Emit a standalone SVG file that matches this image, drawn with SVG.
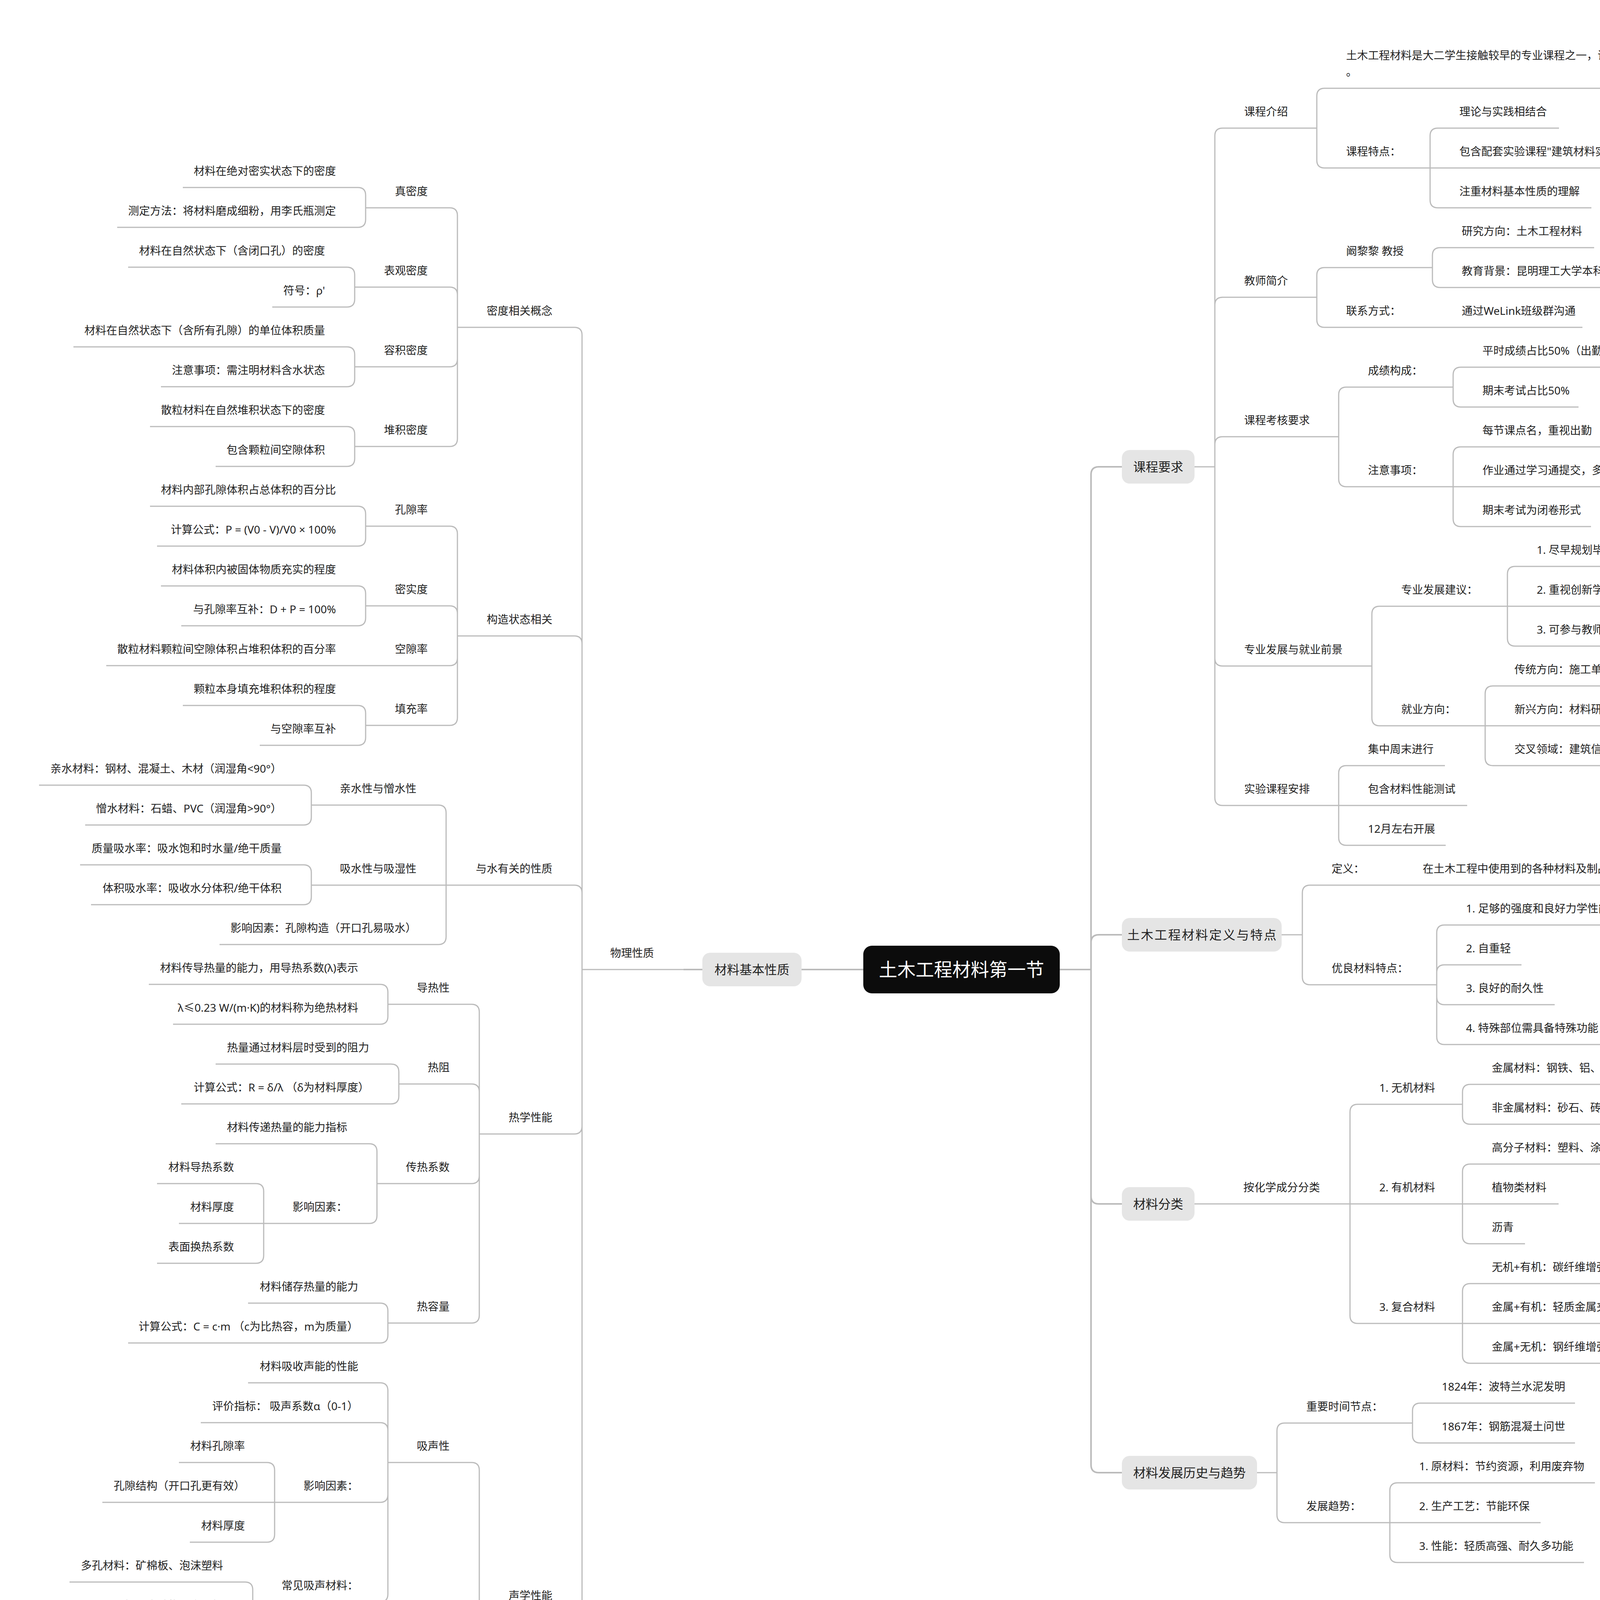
<svg xmlns="http://www.w3.org/2000/svg" width="4611" height="5101" viewBox="0 0 4611 5101">
<style>
text{font-family:"Noto Sans","Noto Sans CJK SC",sans-serif;fill:#222}
.t{font-size:28px}
.e{text-anchor:end}
.u,.c{fill:none;stroke:#bbb;stroke-width:3}
.cm{fill:none;stroke:#bbb;stroke-width:4}
.box{fill:#e5e5e5}
.bt{font-size:32px;text-anchor:middle}
.rt{font-size:47px;text-anchor:middle;fill:#fff}
.ft{font-family:"Open Sans","Noto Sans CJK SC",sans-serif;font-size:26px}
.g{fill:#9aa0a6}
.o{fill:#e5a116}
</style>
<rect width="4611" height="5101" fill="#fff"/>
<g id="connectors">
<path class="cm" d="M2713 2482H2793 M2793 2482V1215Q2793 1195 2813 1195H2872 M2793 2482V2413Q2793 2393 2813 2393H2872 M2793 2482V3062Q2793 3082 2813 3082H2872 M2793 2482V3750Q2793 3770 2813 3770H2872 M2210 2482H2052 M1798 2482H1750"/>
<path class="c" d="M3058 1195H3110 M3110 1195V348Q3110 328 3130 328 M3110 1195V781Q3110 761 3130 761 M3110 1195V1138Q3110 1118 3130 1118 M3110 1195V1685Q3110 1705 3130 1705 M3110 1195V2042Q3110 2062 3130 2062"/>
<path class="c" d="M3371 328V246Q3371 226 3391 226 M3371 328V410Q3371 430 3391 430"/>
<path class="c" d="M3661 430V348Q3661 328 3681 328 M3661 430H3681 M3661 430V512Q3661 532 3681 532"/>
<path class="c" d="M3371 761V705Q3371 685 3391 685 M3371 761V818Q3371 838 3391 838"/>
<path class="c" d="M3667 685V654Q3667 634 3687 634 M3667 685V716Q3667 736 3687 736"/>
<path class="c" d="M3667 838H3687"/>
<path class="c" d="M3427 1118V1011Q3427 991 3447 991 M3427 1118V1226Q3427 1246 3447 1246"/>
<path class="c" d="M3720 991V960Q3720 940 3740 940 M3720 991V1022Q3720 1042 3740 1042"/>
<path class="c" d="M3720 1246V1164Q3720 1144 3740 1144 M3720 1246H3740 M3720 1246V1328Q3720 1348 3740 1348"/>
<path class="c" d="M3512 1705V1572Q3512 1552 3532 1552 M3512 1705V1838Q3512 1858 3532 1858"/>
<path class="c" d="M3859 1552V1470Q3859 1450 3879 1450 M3859 1552H3879 M3859 1552V1634Q3859 1654 3879 1654"/>
<path class="c" d="M3802 1858V1776Q3802 1756 3822 1756 M3802 1858H3822 M3802 1858V1940Q3802 1960 3822 1960"/>
<path class="c" d="M3427 2062V1980Q3427 1960 3447 1960 M3427 2062H3447 M3427 2062V2144Q3427 2164 3447 2164"/>
<path class="c" d="M3281 2393H3334 M3334 2393V2286Q3334 2266 3354 2266 M3334 2393V2501Q3334 2521 3354 2521"/>
<path class="c" d="M3567 2266H3587"/>
<path class="c" d="M3678 2521V2388Q3678 2368 3698 2368 M3678 2521V2490Q3678 2470 3698 2470 M3678 2521V2552Q3678 2572 3698 2572 M3678 2521V2654Q3678 2674 3698 2674"/>
<path class="c" d="M3058 3082H3128"/>
<path class="c" d="M3456 3082V2847Q3456 2827 3476 2827 M3456 3082H3476 M3456 3082V3368Q3456 3388 3476 3388"/>
<path class="c" d="M3744 2827V2796Q3744 2776 3764 2776 M3744 2827V2858Q3744 2878 3764 2878"/>
<path class="c" d="M3744 3082V3000Q3744 2980 3764 2980 M3744 3082H3764 M3744 3082V3164Q3744 3184 3764 3184"/>
<path class="c" d="M3744 3388V3306Q3744 3286 3764 3286 M3744 3388H3764 M3744 3388V3470Q3744 3490 3764 3490"/>
<path class="c" d="M3218 3770H3269 M3269 3770V3663Q3269 3643 3289 3643 M3269 3770V3878Q3269 3898 3289 3898"/>
<path class="c" d="M3616 3643V3612Q3616 3592 3636 3592 M3616 3643V3674Q3616 3694 3636 3694"/>
<path class="c" d="M3558 3898V3816Q3558 3796 3578 3796 M3558 3898H3578 M3558 3898V3980Q3558 4000 3578 4000"/>
<path class="c" d="M1490 2482V858Q1490 838 1470 838 M1490 2482V1648Q1490 1628 1470 1628 M1490 2482V2286Q1490 2266 1470 2266 M1490 2482V2883Q1490 2903 1470 2903 M1490 2482V4107Q1490 4127 1470 4127"/>
<path class="c" d="M1171 838V552Q1171 532 1151 532 M1171 838V755Q1171 735 1151 735 M1171 838V919Q1171 939 1151 939 M1171 838V1123Q1171 1143 1151 1143"/>
<path class="c" d="M936 532V500Q936 480 916 480 M936 532V562Q936 582 916 582"/>
<path class="c" d="M908 735V704Q908 684 888 684 M908 735V766Q908 786 888 786"/>
<path class="c" d="M908 939V908Q908 888 888 888 M908 939V970Q908 990 888 990"/>
<path class="c" d="M908 1143V1112Q908 1092 888 1092 M908 1143V1174Q908 1194 888 1194"/>
<path class="c" d="M1171 1628V1367Q1171 1347 1151 1347 M1171 1628V1571Q1171 1551 1151 1551 M1171 1628V1684Q1171 1704 1151 1704 M1171 1628V1837Q1171 1857 1151 1857"/>
<path class="c" d="M936 1347V1316Q936 1296 916 1296 M936 1347V1378Q936 1398 916 1398"/>
<path class="c" d="M936 1551V1520Q936 1500 916 1500 M936 1551V1582Q936 1602 916 1602"/>
<path class="c" d="M936 1704H916"/>
<path class="c" d="M936 1857V1826Q936 1806 916 1806 M936 1857V1888Q936 1908 916 1908"/>
<path class="c" d="M1142 2266V2081Q1142 2061 1122 2061 M1142 2266H1122 M1142 2266V2398Q1142 2418 1122 2418"/>
<path class="c" d="M797 2061V2030Q797 2010 777 2010 M797 2061V2092Q797 2112 777 2112"/>
<path class="c" d="M797 2266V2234Q797 2214 777 2214 M797 2266V2296Q797 2316 777 2316"/>
<path class="c" d="M1227 2903V2591Q1227 2571 1207 2571 M1227 2903V2795Q1227 2775 1207 2775 M1227 2903V3010Q1227 3030 1207 3030 M1227 2903V3367Q1227 3387 1207 3387"/>
<path class="c" d="M993 2571V2540Q993 2520 973 2520 M993 2571V2602Q993 2622 973 2622"/>
<path class="c" d="M1021 2775V2744Q1021 2724 1001 2724 M1021 2775V2806Q1021 2826 1001 2826"/>
<path class="c" d="M965 3030V2948Q965 2928 945 2928 M965 3030V3112Q965 3132 945 3132"/>
<path class="c" d="M675 3132V3050Q675 3030 655 3030 M675 3132H655 M675 3132V3214Q675 3234 655 3234"/>
<path class="c" d="M993 3387V3356Q993 3336 973 3336 M993 3387V3418Q993 3438 973 3438"/>
<path class="c" d="M1227 4127V3764Q1227 3744 1207 3744 M1227 4127V4489Q1227 4509 1207 4509"/>
<path class="c" d="M993 3744V3560Q993 3540 973 3540 M993 3744V3662Q993 3642 973 3642 M993 3744V3826Q993 3846 973 3846 M993 3744V4081Q993 4101 973 4101"/>
<path class="c" d="M703 3846V3764Q703 3744 683 3744 M703 3846H683 M703 3846V3928Q703 3948 683 3948"/>
<path class="c" d="M647 4101V4070Q647 4050 627 4050 M647 4101V4132Q647 4152 627 4152"/>
<path class="c" d="M993 4509V4274Q993 4254 973 4254 M993 4509V4376Q993 4356 973 4356 M993 4509H973 M993 4509V4642Q993 4662 973 4662 M993 4509V4846Q993 4866 973 4866"/>
<path class="c" d="M703 4509V4478Q703 4458 683 4458 M703 4509V4540Q703 4560 683 4560"/>
<path class="c" d="M647 4866V4784Q647 4764 627 4764 M647 4866H627 M647 4866V4948Q647 4968 627 4968"/>
</g>
<g id="root"><rect x="2210" y="2421" width="503" height="122" rx="22" fill="#0c0c0c"/><text class="rt" x="2461.5" y="2499">土木工程材料第一节</text></g>
<g id="n-kcyq"><rect class="box" x="2872" y="1152" width="186" height="86" rx="20"/><text class="bt" x="2965" y="1207">课程要求</text></g>
<g id="n-kcjs"><path class="u" d="M3130 328H3371"/><text class="t" x="3185" y="296">课程介绍</text></g>
<g id="n-kcjs-1"><path class="u" d="M3391 226H4457"/><text class="t" x="3446" y="152">土木工程材料是大二学生接触较早的专业课程之一，课程内容相对基础但很重要</text><text class="t" x="3446" y="194">。</text></g>
<g id="n-kctd"><path class="u" d="M3391 430H3661"/><text class="t" x="3446" y="398">课程特点：</text></g>
<g id="n-kctd-1"><path class="u" d="M3681 328H3991"/><text class="t" x="3736" y="296">理论与实践相结合</text></g>
<g id="n-kctd-2"><path class="u" d="M3681 430H4195"/><text class="t" x="3736" y="398">包含配套实验课程"建筑材料实验B"</text></g>
<g id="n-kctd-3"><path class="u" d="M3681 532H4074"/><text class="t" x="3736" y="500">注重材料基本性质的理解</text></g>
<g id="n-jsjj"><path class="u" d="M3130 761H3371"/><text class="t" x="3185" y="729">教师简介</text></g>
<g id="n-kll"><path class="u" d="M3391 685H3667"/><text class="t" x="3446" y="653">阚黎黎 教授</text></g>
<g id="n-kll-1"><path class="u" d="M3687 634H4081"/><text class="t" x="3742" y="602">研究方向：土木工程材料</text></g>
<g id="n-kll-2"><path class="u" d="M3687 736H4417"/><text class="t" x="3742" y="704">教育背景：昆明理工大学本科，同济大学硕士、博士</text></g>
<g id="n-lxfs"><path class="u" d="M3391 838H3667"/><text class="t" x="3446" y="806">联系方式：</text></g>
<g id="n-lxfs-1"><path class="u" d="M3687 838H4051"/><text class="t" x="3742" y="806">通过WeLink班级群沟通</text></g>
<g id="n-khyq"><path class="u" d="M3130 1118H3427"/><text class="t" x="3185" y="1086">课程考核要求</text></g>
<g id="n-cjgc"><path class="u" d="M3447 991H3720"/><text class="t" x="3502" y="959">成绩构成：</text></g>
<g id="n-cjgc-1"><path class="u" d="M3740 940H4229"/><text class="t" x="3795" y="908">平时成绩占比50%（出勤+作业）</text></g>
<g id="n-cjgc-2"><path class="u" d="M3740 1042H4041"/><text class="t" x="3795" y="1010">期末考试占比50%</text></g>
<g id="n-zysx"><path class="u" d="M3447 1246H3720"/><text class="t" x="3502" y="1214">注意事项：</text></g>
<g id="n-zysx-1"><path class="u" d="M3740 1144H4100"/><text class="t" x="3795" y="1112">每节课点名，重视出勤</text></g>
<g id="n-zysx-2"><path class="u" d="M3740 1246H4241"/><text class="t" x="3795" y="1214">作业通过学习通提交，多为客观题</text></g>
<g id="n-zysx-3"><path class="u" d="M3740 1348H4073"/><text class="t" x="3795" y="1316">期末考试为闭卷形式</text></g>
<g id="n-zyfz"><path class="u" d="M3130 1705H3512"/><text class="t" x="3185" y="1673">专业发展与就业前景</text></g>
<g id="n-zyjy"><path class="u" d="M3532 1552H3859"/><text class="t" x="3587" y="1520">专业发展建议：</text></g>
<g id="n-zyjy-1"><path class="u" d="M3879 1450H4461"/><text class="t" x="3934" y="1418">1. 尽早规划毕业去向（考研/考公/出国）</text></g>
<g id="n-zyjy-2"><path class="u" d="M3879 1552H4215"/><text class="t" x="3934" y="1520">2. 重视创新学分获取</text></g>
<g id="n-zyjy-3"><path class="u" d="M3879 1654H4242"/><text class="t" x="3934" y="1622">3. 可参与教师科研项目</text></g>
<g id="n-jyfx"><path class="u" d="M3532 1858H3802"/><text class="t" x="3587" y="1826">就业方向：</text></g>
<g id="n-jyfx-1"><path class="u" d="M3822 1756H4268"/><text class="t" x="3877" y="1724">传统方向：施工单位、设计院</text></g>
<g id="n-jyfx-2"><path class="u" d="M3822 1858H4298"/><text class="t" x="3877" y="1826">新兴方向：材料研发、绿色建筑</text></g>
<g id="n-jyfx-3"><path class="u" d="M3822 1960H4325"/><text class="t" x="3877" y="1928">交叉领域：建筑信息化、智能建造</text></g>
<g id="n-sykc"><path class="u" d="M3130 2062H3427"/><text class="t" x="3185" y="2030">实验课程安排</text></g>
<g id="n-sykc-1"><path class="u" d="M3447 1960H3699"/><text class="t" x="3502" y="1928">集中周末进行</text></g>
<g id="n-sykc-2"><path class="u" d="M3447 2062H3756"/><text class="t" x="3502" y="2030">包含材料性能测试</text></g>
<g id="n-sykc-3"><path class="u" d="M3447 2164H3701"/><text class="t" x="3502" y="2132">12月左右开展</text></g>
<g id="n-dytd"><rect class="box" x="2872" y="2350" width="409" height="86" rx="20"/><text class="bt" x="3078" y="2405" letter-spacing="3">土木工程材料定义与特点</text></g>
<g id="n-dy"><path class="u" d="M3354 2266H3567"/><text class="t" x="3409" y="2234">定义：</text></g>
<g id="n-dy-1"><path class="u" d="M3587 2266H4512"/><text class="t" x="3642" y="2234">在土木工程中使用到的各种材料及制品，如混凝土、钢材、木材等。</text></g>
<g id="n-ylcl"><path class="u" d="M3354 2521H3678"/><text class="t" x="3409" y="2489">优良材料特点：</text></g>
<g id="n-ylcl-1"><path class="u" d="M3698 2368H4147"/><text class="t" x="3753" y="2336">1. 足够的强度和良好力学性能</text></g>
<g id="n-ylcl-2"><path class="u" d="M3698 2470H3895"/><text class="t" x="3753" y="2438">2. 自重轻</text></g>
<g id="n-ylcl-3"><path class="u" d="M3698 2572H3980"/><text class="t" x="3753" y="2540">3. 良好的耐久性</text></g>
<g id="n-ylcl-4"><path class="u" d="M3698 2674H4120"/><text class="t" x="3753" y="2642">4. 特殊部位需具备特殊功能</text></g>
<g id="n-clfl"><rect class="box" x="2872" y="3039" width="186" height="86" rx="20"/><text class="bt" x="2965" y="3094">材料分类</text></g>
<g id="n-ahx"><path class="u" d="M3128 3082H3456"/><text class="t" x="3183" y="3050">按化学成分分类</text></g>
<g id="n-wj"><path class="u" d="M3476 2827H3744"/><text class="t" x="3531" y="2795">1. 无机材料</text></g>
<g id="n-wj-1"><path class="u" d="M3764 2776H4185"/><text class="t" x="3819" y="2744">金属材料：钢铁、铝、铜等</text></g>
<g id="n-wj-2"><path class="u" d="M3764 2878H4354"/><text class="t" x="3819" y="2846">非金属材料：砂石、砖瓦、玻璃、水泥等</text></g>
<g id="n-yj"><path class="u" d="M3476 3082H3744"/><text class="t" x="3531" y="3050">2. 有机材料</text></g>
<g id="n-yj-1"><path class="u" d="M3764 2980H4158"/><text class="t" x="3819" y="2948">高分子材料：塑料、涂料</text></g>
<g id="n-yj-2"><path class="u" d="M3764 3082H3990"/><text class="t" x="3819" y="3050">植物类材料</text></g>
<g id="n-yj-3"><path class="u" d="M3764 3184H3904"/><text class="t" x="3819" y="3152">沥青</text></g>
<g id="n-fh"><path class="u" d="M3476 3388H3744"/><text class="t" x="3531" y="3356">3. 复合材料</text></g>
<g id="n-fh-1"><path class="u" d="M3764 3286H4204"/><text class="t" x="3819" y="3254">无机+有机：碳纤维增强塑料</text></g>
<g id="n-fh-2"><path class="u" d="M3764 3388H4204"/><text class="t" x="3819" y="3356">金属+有机：轻质金属夹心板</text></g>
<g id="n-fh-3"><path class="u" d="M3764 3490H4233"/><text class="t" x="3819" y="3458">金属+无机：钢纤维增强混凝土</text></g>
<g id="n-fzls"><rect class="box" x="2872" y="3727" width="346" height="86" rx="20"/><text class="bt" x="3045" y="3782">材料发展历史与趋势</text></g>
<g id="n-sjjd"><path class="u" d="M3289 3643H3616"/><text class="t" x="3344" y="3611">重要时间节点：</text></g>
<g id="n-sjjd-1"><path class="u" d="M3636 3592H4032"/><text class="t" x="3691" y="3560">1824年：波特兰水泥发明</text></g>
<g id="n-sjjd-2"><path class="u" d="M3636 3694H4032"/><text class="t" x="3691" y="3662">1867年：钢筋混凝土问世</text></g>
<g id="n-fzqs"><path class="u" d="M3289 3898H3558"/><text class="t" x="3344" y="3866">发展趋势：</text></g>
<g id="n-fzqs-1"><path class="u" d="M3578 3796H4083"/><text class="t" x="3633" y="3764">1. 原材料：节约资源，利用废弃物</text></g>
<g id="n-fzqs-2"><path class="u" d="M3578 3898H3944"/><text class="t" x="3633" y="3866">2. 生产工艺：节能环保</text></g>
<g id="n-fzqs-3"><path class="u" d="M3578 4000H4055"/><text class="t" x="3633" y="3968">3. 性能：轻质高强、耐久多功能</text></g>
<g id="n-jbxz"><rect class="box" x="1798" y="2439" width="254" height="86" rx="20"/><text class="bt" x="1925" y="2494">材料基本性质</text></g>
<g id="n-wlxz"><path class="u" d="M1490 2482H1750"/><text class="t e" x="1674" y="2450">物理性质</text></g>
<g id="n-mdxg"><path class="u" d="M1171 838H1470"/><text class="t e" x="1414" y="806">密度相关概念</text></g>
<g id="n-zmd"><path class="u" d="M936 532H1151"/><text class="t e" x="1095" y="500">真密度</text></g>
<g id="n-zmd-1"><path class="u" d="M468 480H916"/><text class="t e" x="860" y="448">材料在绝对密实状态下的密度</text></g>
<g id="n-zmd-2"><path class="u" d="M300 582H916"/><text class="t e" x="860" y="550">测定方法：将材料磨成细粉，用李氏瓶测定</text></g>
<g id="n-bgmd"><path class="u" d="M908 735H1151"/><text class="t e" x="1095" y="703">表观密度</text></g>
<g id="n-bgmd-1"><path class="u" d="M328 684H888"/><text class="t e" x="832" y="652">材料在自然状态下（含闭口孔）的密度</text></g>
<g id="n-bgmd-2"><path class="u" d="M697 786H888"/><text class="t e" x="832" y="754">符号：ρ'</text></g>
<g id="n-rjmd"><path class="u" d="M908 939H1151"/><text class="t e" x="1095" y="907">容积密度</text></g>
<g id="n-rjmd-1"><path class="u" d="M188 888H888"/><text class="t e" x="832" y="856">材料在自然状态下（含所有孔隙）的单位体积质量</text></g>
<g id="n-rjmd-2"><path class="u" d="M412 990H888"/><text class="t e" x="832" y="958">注意事项：需注明材料含水状态</text></g>
<g id="n-djmd"><path class="u" d="M908 1143H1151"/><text class="t e" x="1095" y="1111">堆积密度</text></g>
<g id="n-djmd-1"><path class="u" d="M384 1092H888"/><text class="t e" x="832" y="1060">散粒材料在自然堆积状态下的密度</text></g>
<g id="n-djmd-2"><path class="u" d="M552 1194H888"/><text class="t e" x="832" y="1162">包含颗粒间空隙体积</text></g>
<g id="n-gzzt"><path class="u" d="M1171 1628H1470"/><text class="t e" x="1414" y="1596">构造状态相关</text></g>
<g id="n-kxl"><path class="u" d="M936 1347H1151"/><text class="t e" x="1095" y="1315">孔隙率</text></g>
<g id="n-kxl-1"><path class="u" d="M384 1296H916"/><text class="t e" x="860" y="1264">材料内部孔隙体积占总体积的百分比</text></g>
<g id="n-kxl-2"><path class="u" d="M402 1398H916"/><text class="t e" x="860" y="1366">计算公式：P = (V0 - V)/V0 × 100%</text></g>
<g id="n-msd"><path class="u" d="M936 1551H1151"/><text class="t e" x="1095" y="1519">密实度</text></g>
<g id="n-msd-1"><path class="u" d="M412 1500H916"/><text class="t e" x="860" y="1468">材料体积内被固体物质充实的程度</text></g>
<g id="n-msd-2"><path class="u" d="M464 1602H916"/><text class="t e" x="860" y="1570">与孔隙率互补：D + P = 100%</text></g>
<g id="n-kongxl"><path class="u" d="M936 1704H1151"/><text class="t e" x="1095" y="1672">空隙率</text></g>
<g id="n-kongxl-1"><path class="u" d="M272 1704H916"/><text class="t e" x="860" y="1672">散粒材料颗粒间空隙体积占堆积体积的百分率</text></g>
<g id="n-tcl"><path class="u" d="M936 1857H1151"/><text class="t e" x="1095" y="1825">填充率</text></g>
<g id="n-tcl-1"><path class="u" d="M468 1806H916"/><text class="t e" x="860" y="1774">颗粒本身填充堆积体积的程度</text></g>
<g id="n-tcl-2"><path class="u" d="M665 1908H916"/><text class="t e" x="860" y="1876">与空隙率互补</text></g>
<g id="n-ysxz"><path class="u" d="M1142 2266H1470"/><text class="t e" x="1414" y="2234">与水有关的性质</text></g>
<g id="n-qsx"><path class="u" d="M797 2061H1122"/><text class="t e" x="1066" y="2029">亲水性与憎水性</text></g>
<g id="n-qsx-1"><path class="u" d="M100 2010H777"/><text class="t e" x="721" y="1978">亲水材料：钢材、混凝土、木材（润湿角&lt;90°）</text></g>
<g id="n-qsx-2"><path class="u" d="M218 2112H777"/><text class="t e" x="721" y="2080">憎水材料：石蜡、PVC（润湿角&gt;90°）</text></g>
<g id="n-xsx"><path class="u" d="M797 2266H1122"/><text class="t e" x="1066" y="2234">吸水性与吸湿性</text></g>
<g id="n-xsx-1"><path class="u" d="M205 2214H777"/><text class="t e" x="721" y="2182">质量吸水率：吸水饱和时水量/绝干质量</text></g>
<g id="n-xsx-2"><path class="u" d="M233 2316H777"/><text class="t e" x="721" y="2284">体积吸水率：吸收水分体积/绝干体积</text></g>
<g id="n-yxys-s"><path class="u" d="M562 2418H1122"/><text class="t e" x="1066" y="2386">影响因素：孔隙构造（开口孔易吸水）</text></g>
<g id="n-rxxn"><path class="u" d="M1227 2903H1470"/><text class="t e" x="1414" y="2871">热学性能</text></g>
<g id="n-drx"><path class="u" d="M993 2571H1207"/><text class="t e" x="1151" y="2539">导热性</text></g>
<g id="n-drx-1"><path class="u" d="M381 2520H973"/><text class="t e" x="917" y="2488">材料传导热量的能力，用导热系数(λ)表示</text></g>
<g id="n-drx-2"><path class="u" d="M443 2622H973"/><text class="t e" x="917" y="2590">λ≤0.23 W/(m·K)的材料称为绝热材料</text></g>
<g id="n-rz"><path class="u" d="M1021 2775H1207"/><text class="t e" x="1151" y="2743">热阻</text></g>
<g id="n-rz-1"><path class="u" d="M552 2724H1001"/><text class="t e" x="945" y="2692">热量通过材料层时受到的阻力</text></g>
<g id="n-rz-2"><path class="u" d="M464 2826H1001"/><text class="t e" x="945" y="2794">计算公式：R = δ/λ （δ为材料厚度）</text></g>
<g id="n-crxs"><path class="u" d="M965 3030H1207"/><text class="t e" x="1151" y="2998">传热系数</text></g>
<g id="n-crxs-1"><path class="u" d="M552 2928H945"/><text class="t e" x="889" y="2896">材料传递热量的能力指标</text></g>
<g id="n-crxs-2"><path class="u" d="M675 3132H945"/><text class="t e" x="889" y="3100">影响因素：</text></g>
<g id="n-crxs-2a"><path class="u" d="M402 3030H655"/><text class="t e" x="599" y="2998">材料导热系数</text></g>
<g id="n-crxs-2b"><path class="u" d="M458 3132H655"/><text class="t e" x="599" y="3100">材料厚度</text></g>
<g id="n-crxs-2c"><path class="u" d="M402 3234H655"/><text class="t e" x="599" y="3202">表面换热系数</text></g>
<g id="n-rrl"><path class="u" d="M993 3387H1207"/><text class="t e" x="1151" y="3355">热容量</text></g>
<g id="n-rrl-1"><path class="u" d="M635 3336H973"/><text class="t e" x="917" y="3304">材料储存热量的能力</text></g>
<g id="n-rrl-2"><path class="u" d="M328 3438H973"/><text class="t e" x="917" y="3406">计算公式：C = c·m （c为比热容，m为质量）</text></g>
<g id="n-sxxn"><path class="u" d="M1227 4127H1470"/><text class="t e" x="1414" y="4095">声学性能</text></g>
<g id="n-xsx2"><path class="u" d="M993 3744H1207"/><text class="t e" x="1151" y="3712">吸声性</text></g>
<g id="n-xsx2-1"><path class="u" d="M635 3540H973"/><text class="t e" x="917" y="3508">材料吸收声能的性能</text></g>
<g id="n-xsx2-2"><path class="u" d="M514 3642H973"/><text class="t e" x="917" y="3610">评价指标： 吸声系数α（0-1）</text></g>
<g id="n-xsx2-3"><path class="u" d="M703 3846H973"/><text class="t e" x="917" y="3814">影响因素：</text></g>
<g id="n-xsx2-3a"><path class="u" d="M458 3744H683"/><text class="t e" x="627" y="3712">材料孔隙率</text></g>
<g id="n-xsx2-3b"><path class="u" d="M262 3846H683"/><text class="t e" x="627" y="3814">孔隙结构（开口孔更有效）</text></g>
<g id="n-xsx2-3c"><path class="u" d="M486 3948H683"/><text class="t e" x="627" y="3916">材料厚度</text></g>
<g id="n-xsx2-4"><path class="u" d="M647 4101H973"/><text class="t e" x="917" y="4069">常见吸声材料：</text></g>
<g id="n-xsx2-4a"><path class="u" d="M178 4050H627"/><text class="t e" x="571" y="4018">多孔材料：矿棉板、泡沫塑料</text></g>
<g id="n-xsx2-4b"><path class="u" d="M262 4152H627"/><text class="t e" x="571" y="4120">共振吸声结构：穿孔板</text></g>
<g id="n-gsx"><path class="u" d="M993 4509H1207"/><text class="t e" x="1151" y="4477">隔声性</text></g>
<g id="n-gsx-1"><path class="u" d="M580 4254H973"/><text class="t e" x="917" y="4222">材料阻隔声音传播的能力</text></g>
<g id="n-gsx-2"><path class="u" d="M552 4356H973"/><text class="t e" x="917" y="4324">评价指标： 隔声量R（dB）</text></g>
<g id="n-gsx-3"><path class="u" d="M703 4509H973"/><text class="t e" x="917" y="4477">影响因素：</text></g>
<g id="n-gsx-3a"><path class="u" d="M458 4458H683"/><text class="t e" x="627" y="4426">材料面密度</text></g>
<g id="n-gsx-3b"><path class="u" d="M486 4560H683"/><text class="t e" x="627" y="4528">材料弹性</text></g>
<g id="n-gsx-4"><path class="u" d="M524 4662H973"/><text class="t e" x="917" y="4630">结构形式（双层结构更有效）</text></g>
<g id="n-gsx-5"><path class="u" d="M647 4866H973"/><text class="t e" x="917" y="4834">隔声设计原则：</text></g>
<g id="n-gsx-5a"><path class="u" d="M121 4764H627"/><text class="t e" x="571" y="4732">1. 质量定律：面密度越大隔声越好</text></g>
<g id="n-gsx-5b"><path class="u" d="M121 4866H627"/><text class="t e" x="571" y="4834">2. 双层结构：中间空气层提高隔声</text></g>
<g id="n-gsx-5c"><path class="u" d="M205 4968H627"/><text class="t e" x="571" y="4936">3. 弹性连接：减少声桥传声</text></g>
<g id="footer">
<text class="ft g" x="2177" y="5059">by</text>
<text class="ft o" x="2210" y="5059">LLX</text>
<text class="ft g" x="2256" y="5059">由</text>
<g fill="#9aa0a6" stroke="#9aa0a6" stroke-width="2"><line x1="2291" y1="5045" x2="2291" y2="5059"/><line x1="2310" y1="5045" x2="2310" y2="5059"/><circle cx="2291" cy="5045" r="2.5"/><circle cx="2291" cy="5059" r="2.5"/><circle cx="2310" cy="5045" r="2.5"/><circle cx="2310" cy="5059" r="2.5"/><circle cx="2300.5" cy="5052" r="2.5"/></g>
<text class="ft o" x="2320" y="5059">幕布</text>
<text class="ft g" x="2380" y="5059">发布</text>
</g>
</svg>
